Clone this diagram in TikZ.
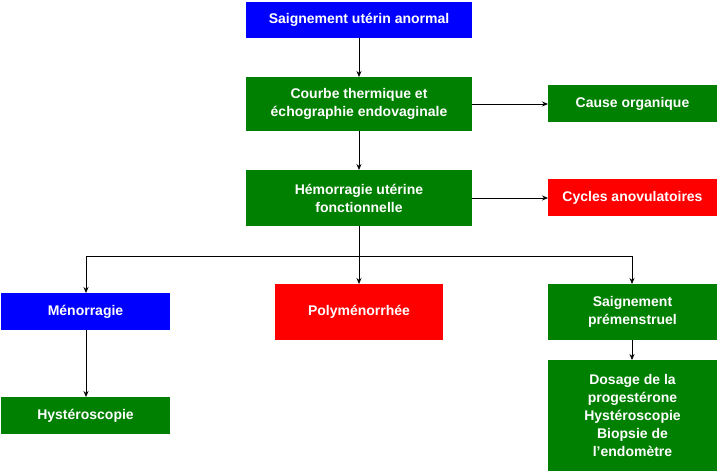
\documentclass[tikz,border=0pt]{standalone}
\usepackage{fontspec}
\setmainfont{Liberation Sans}
\usetikzlibrary{arrows.meta}
\definecolor{gB}{RGB}{0,128,0}
\definecolor{bB}{RGB}{0,0,255}
\definecolor{rB}{RGB}{255,0,0}
\begin{document}
\begin{tikzpicture}[x=1pt,y=-1pt,
 box/.style={draw=none,text=white,font=\fontsize{14}{18}\selectfont\bfseries,align=center,inner sep=0pt},
 arr/.style={-{Stealth[length=6pt,width=5pt]},line width=0.7pt}]
\useasboundingbox (0,0) rectangle (719,473);
\newcommand{\bx}[7]{\fill[#6] (#2,#3) rectangle (#4,#5); \node[box] (#1) at ({(#2+#4)/2},{(#3+#5)/2}) {#7};
 \path (#2,#3) coordinate (#1-nw) (#4,#5) coordinate (#1-se);}
\bx{a}{246}{2}{472}{38}{bB}{Saignement utérin anormal}
\bx{b}{246}{77}{472}{131}{gB}{Courbe thermique et\\échographie endovaginale}
\bx{c}{548}{85}{717}{122}{gB}{Cause organique}
\bx{d}{246}{170}{472}{226}{gB}{Hémorragie utérine\\fonctionnelle}
\bx{e}{548}{179}{717}{216}{rB}{Cycles anovulatoires}
\bx{f}{1}{293}{170}{330}{bB}{Ménorragie}
\bx{g}{275}{284}{443}{340}{rB}{Polyménorrhée}
\bx{h}{548}{284}{717}{340}{gB}{Saignement\\prémenstruel}
\bx{i}{1}{397}{170}{434}{gB}{Hystéroscopie}
\bx{j}{548}{360}{717}{471}{gB}{Dosage de la\\progestérone\\Hystéroscopie\\Biopsie de\\l'endomètre}
\draw[arr] (359,38) -- (359,77);
\draw[arr] (359,131) -- (359,170);
\draw[arr] (472,104) -- (548,104);
\draw[arr] (472,198) -- (548,198);
\draw[line width=0.7pt] (359,226) -- (359,256) (86,256) -- (632,256);
\draw[arr] (86,256) -- (86,293);
\draw[arr] (359,256) -- (359,284);
\draw[arr] (632,256) -- (632,284);
\draw[arr] (86,330) -- (86,397);
\draw[arr] (632,340) -- (632,360);
\end{tikzpicture}
\end{document}
